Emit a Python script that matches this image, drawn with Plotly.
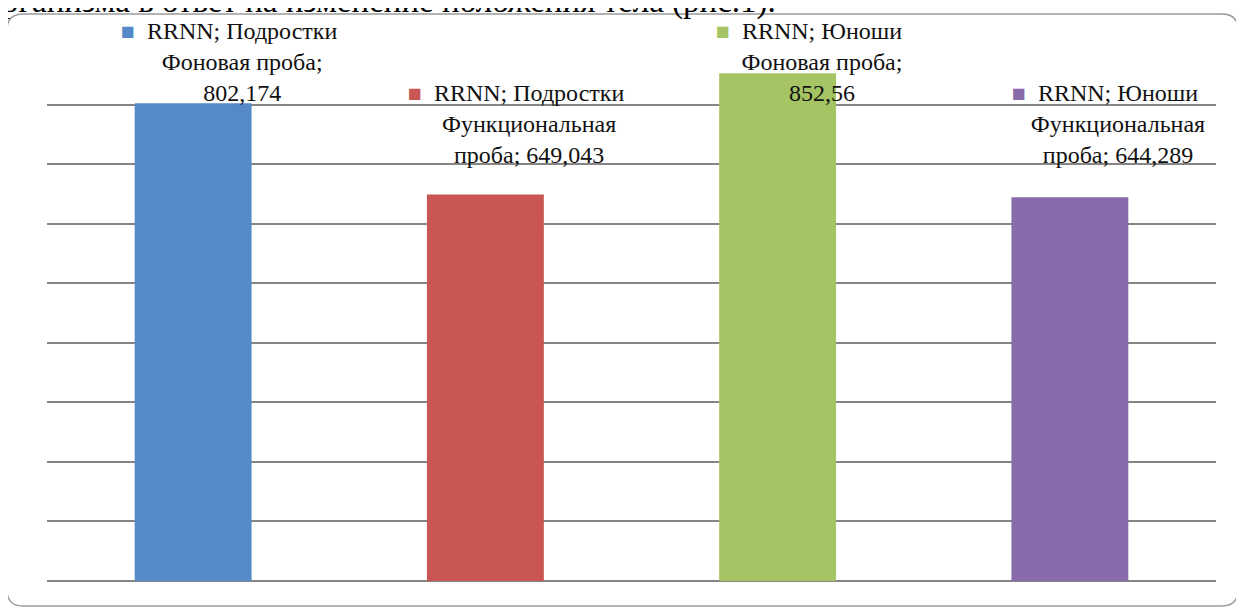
"""Bar chart: RRNN, teenagers vs. youths, background vs. functional test."""

import textwrap
import plotly.graph_objects as go

# data
groups = ["RRNN; Подростки", "RRNN; Подростки", "RRNN; Юноши", "RRNN; Юноши"]
probes = ["Фоновая проба", "Функциональная проба", "Фоновая проба", "Функциональная проба"]
values = [802.174, 649.043, 852.56, 644.289]
colors = ["#5689C7", "#C95652", "#A5C464", "#886BAA"]

caption = "рганизма в ответ на изменение положения тела (рис.1)."

# label nudges (px), the labels were dragged by hand in the original
label_dx = [49, 44, 44, 48]
label_dy = [-5, 24, -35, 27]

FONT = "Liberation Serif, Times New Roman, serif"
# the page body keeps its default 8px margin, so the figure is 8px smaller
# and everything is placed 8px up/left of where it sits on screen
OFF = 8
W, H = 1244 - OFF, 610 - OFF
M = dict(l=47 - OFF, r=28, t=45 - OFF, b=29)

xs = list(range(len(values)))

fig = go.Figure(
    go.Bar(
        x=xs,
        y=values,
        width=0.4,
        marker=dict(color=colors, line=dict(width=0)),
        hoverinfo="y",
    )
)


def label_text(group, probe, value, color):
    num = f"{value:g}".replace(".", ",")
    body = "<br>".join(textwrap.wrap(f"{probe}; {num}", width=15))
    sq = f'<span style="color:{color};font-size:23px">■</span>'
    ghost = '<span style="color:rgba(0,0,0,0);font-size:23px">■</span>'
    return f"{sq}  {group}  {ghost}<br>{body}"


for i, (g, p, v, c) in enumerate(zip(groups, probes, values, colors)):
    fig.add_annotation(
        x=xs[i], y=v, xref="x", yref="y",
        text=label_text(g, p, v, c),
        showarrow=False, xanchor="center", yanchor="bottom",
        xshift=label_dx[i], yshift=label_dy[i],
        font=dict(family=FONT, size=24, color="#111111"),
        align="center",
    )

# cut-off line of the page text above the chart
pw = W - M["l"] - M["r"]
ph = H - M["t"] - M["b"]
fig.add_annotation(
    x=(0 - 47) / pw, y=1 + (45 - 2) / ph,
    xref="paper", yref="paper", xanchor="left", yanchor="middle",
    text=caption, showarrow=False,
    font=dict(family=FONT, size=33, color="black"),
)

# rounded frame around the chart (screen px converted to paper units)
x0, x1 = (7 - 47) / pw, (1238 - 47) / pw
y0, y1 = -(606 - 581) / ph, 1 + (45 - 14) / ph
rx, ry = 16 / pw, 16 / ph
frame = (
    f"M {x0 + rx} {y1} L {x1 - rx} {y1} Q {x1} {y1} {x1} {y1 - ry} "
    f"L {x1} {y0 + ry} Q {x1} {y0} {x1 - rx} {y0} "
    f"L {x0 + rx} {y0} Q {x0} {y0} {x0} {y0 + ry} "
    f"L {x0} {y1 - ry} Q {x0} {y1} {x0 + rx} {y1} Z"
)
fig.add_shape(type="path", path=frame, xref="paper", yref="paper",
              line=dict(color="#9a9a9a", width=1.5), layer="below")

fig.update_layout(
    width=W, height=H,
    margin=M,
    paper_bgcolor="white",
    plot_bgcolor="white",
    showlegend=False,
    font=dict(family=FONT),
)
fig.update_xaxes(range=[-0.5, len(values) - 0.5], showticklabels=False,
                 showgrid=False, zeroline=False, showline=False, ticks="")
fig.update_yaxes(range=[0, 900], dtick=100, showticklabels=False, ticks="",
                 showgrid=True, gridcolor="#858585", gridwidth=2,
                 zeroline=True, zerolinecolor="#858585", zerolinewidth=2,
                 showline=False, layer="below traces")

fig.write_html("out.html")
